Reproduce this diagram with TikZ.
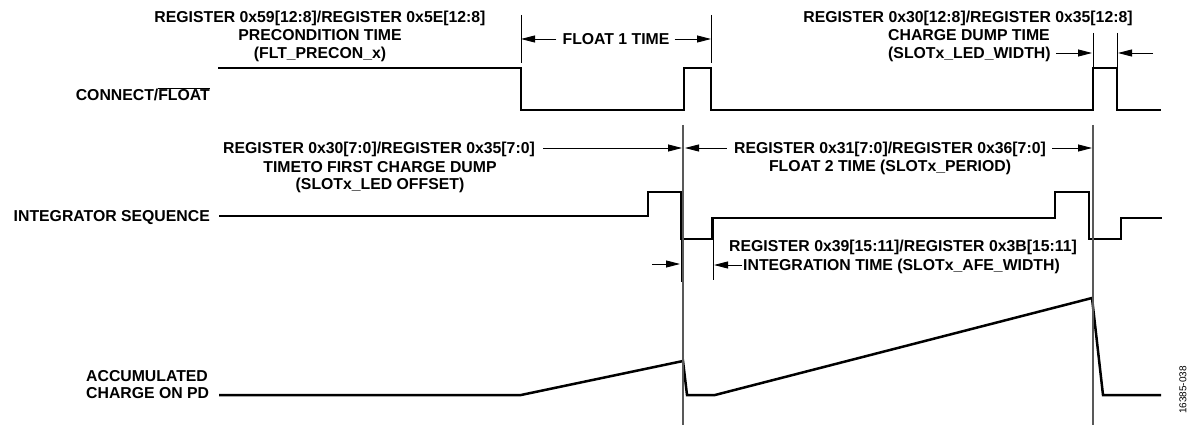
\documentclass[tikz,border=0pt]{standalone}
\usepackage{fontspec}
\setmainfont{Liberation Sans}
\usetikzlibrary{arrows.meta}
\begin{document}
\begin{tikzpicture}[x=1pt,y=-1pt,
  lbl/.style={font=\bfseries\fontsize{15.8}{17.5}\selectfont, inner sep=0pt, text height=11.5pt, text depth=0pt},
  sig/.style={line width=2.5pt, line join=miter},
  vline/.style={line width=1.2pt, draw=black!65},
  tickline/.style={line width=0.9pt},
  dim/.style={line width=0.9pt, -{Triangle[length=14pt,width=7pt]}}]
\useasboundingbox (0,0) rectangle (1191,425);

% ---------- signals ----------
\draw[sig] (218,68) -- (521,68) -- (521,110) -- (684,110) -- (684,68) -- (711,68) -- (711,110)
  -- (1093,110) -- (1093,68) -- (1117,68) -- (1117,110) -- (1161,110);
\draw[sig] (219,216) -- (648,216) -- (648,192) -- (681,192) -- (681,239) -- (712,239) -- (712,218)
  -- (1055,218) -- (1055,192) -- (1089,192) -- (1089,239) -- (1121,239) -- (1121,218) -- (1162,218);
\draw[sig] (219,395) -- (521,395) -- (683,361) -- (687,395) -- (715,395) -- (1092,298) -- (1103,395) -- (1161,395);

% ---------- long vertical lines ----------
\draw[vline] (683,125) -- (683,425);
\draw[vline] (1093,125) -- (1093,425);

% ---------- tick lines ----------
\draw[tickline] (521,15) -- (521,63);
\draw[tickline] (711,15) -- (711,63);
\draw[tickline] (1093,33) -- (1093,67);
\draw[tickline] (1117,33) -- (1117,67);
\draw[tickline] (681,239) -- (681,282);
\draw[tickline] (713,218) -- (713,280);

% ---------- arrow targets ----------
\coordinate (f1l) at (521,39);
\coordinate (f1r) at (711,39);
\coordinate (cdl) at (1092,53);
\coordinate (cdr) at (1118,53);
\coordinate (cdr0) at (1153,53);
\coordinate (t4t) at (682,148);
\coordinate (t5l) at (685,148);
\coordinate (t5r) at (1092,148);
\coordinate (itl) at (680,264);
\coordinate (itl0) at (652,264);
\coordinate (itr) at (714,265);

% ---------- left labels ----------
\node[lbl, anchor=east] (cf) at (210,95) {CONNECT/$\overline{\mbox{FLOAT}}$};
\node[lbl, anchor=east] (is) at (210,216) {INTEGRATOR SEQUENCE};
\node[lbl, anchor=west] (ac1) at (86,376) {ACCUMULATED};
\node[lbl, anchor=west] (ac2) at (86,393) {CHARGE ON PD};

% ---------- precondition ----------
\node[lbl] (p1) at (320,17) {REGISTER 0x59[12:8]/REGISTER 0x5E[12:8]};
\node[lbl] (p2) at (320,35) {PRECONDITION TIME};
\node[lbl] (p3) at (320,52.5) {(FLT\_PRECON\_x)};

% ---------- float 1 ----------
\node[lbl] (f1) at (616,39) {FLOAT 1 TIME};
\draw[dim] ([xshift=-6pt]f1.west) -- (f1l);
\draw[dim] ([xshift=5pt]f1.east) -- (f1r);

% ---------- charge dump ----------
\node[lbl] (c1) at (968,17) {REGISTER 0x30[12:8]/REGISTER 0x35[12:8]};
\node[lbl, anchor=west] (c2) at (888,35) {CHARGE DUMP TIME};
\node[lbl, anchor=west] (c3) at (888,53) {(SLOTx\_LED\_WIDTH)};
\draw[dim] ([xshift=5pt]c3.east) -- (cdl);
\draw[dim] (cdr0) -- (cdr);

% ---------- time to first charge dump ----------
\node[lbl] (t4a) at (379,148) {REGISTER 0x30[7:0]/REGISTER 0x35[7:0]};
\node[lbl] (t4b) at (380,166.5) {TIMETO FIRST CHARGE DUMP};
\node[lbl] (t4c) at (380,184) {(SLOTx\_LED OFFSET)};
\draw[dim] ([xshift=8pt]t4a.east) -- (t4t);

% ---------- float 2 ----------
\node[lbl] (t5a) at (890,148) {REGISTER 0x31[7:0]/REGISTER 0x36[7:0]};
\node[lbl] (t5b) at (890,165.5) {FLOAT 2 TIME (SLOTx\_PERIOD)};
\draw[dim] ([xshift=-7pt]t5a.west) -- (t5l);
\draw[dim] ([xshift=6pt]t5a.east) -- (t5r);

% ---------- integration time ----------
\node[lbl] (t6a) at (903,246) {REGISTER 0x39[15:11]/REGISTER 0x3B[15:11]};
\node[lbl, anchor=west] (t6b) at (743,265) {INTEGRATION TIME (SLOTx\_AFE\_WIDTH)};
\draw[dim] ([xshift=-1pt]t6b.west) -- (itr);
\draw[dim] (itl0) -- (itl);

% ---------- figure number ----------
\node[font=\fontsize{10}{12}\selectfont, inner sep=0pt, rotate=90] (fig) at (1183,390) {16385-038};
\end{tikzpicture}
\end{document}
